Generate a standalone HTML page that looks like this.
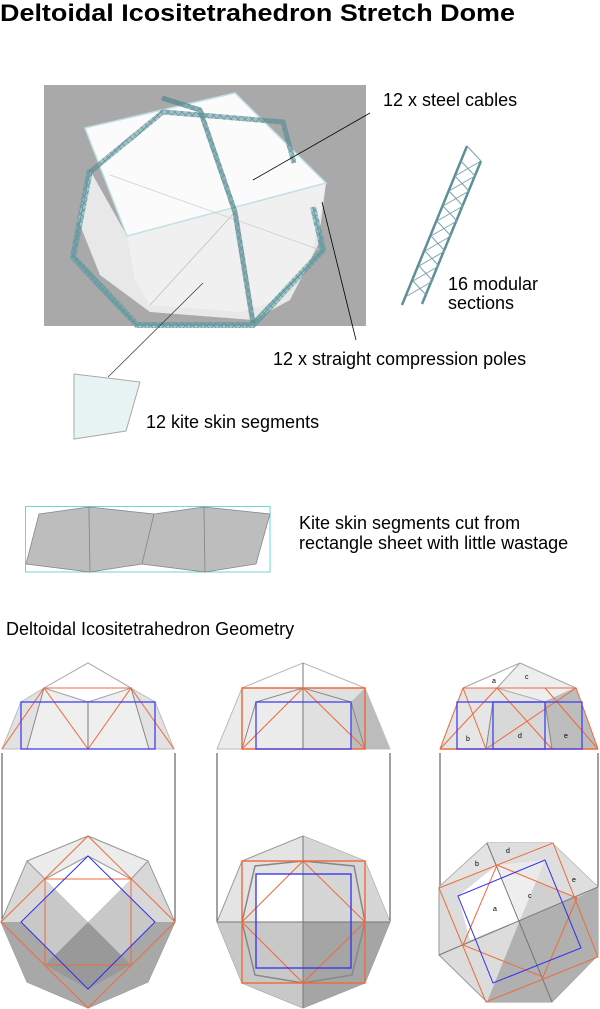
<!DOCTYPE html>
<html><head><meta charset="utf-8"><style>
html,body{margin:0;padding:0;background:#fff;}
svg{display:block}
text{font-family:"Liberation Sans",Arial,sans-serif;fill:#000}
</style></head><body>
<svg width="600" height="1009" viewBox="0 0 600 1009" xmlns="http://www.w3.org/2000/svg">
<defs>
<pattern id="tr" width="7" height="7" patternUnits="userSpaceOnUse">
<path d="M0 0L7 7M7 0L0 7" stroke="#5f9aa2" stroke-width="0.9"/>
</pattern>
</defs>
<text x="0" y="21" font-size="24" font-weight="bold" textLength="515" lengthAdjust="spacingAndGlyphs">Deltoidal Icositetrahedron Stretch Dome</text>

<!-- photo -->
<rect x="44" y="85" width="322" height="241" fill="#a9a9a9"/>
<polygon points="90,170 127,236 326,183 318,245 290,300 253,320 150,312 100,275 78,220" fill="#e8e8e8"/>
<polygon points="127,236 326,183 312,255 280,300 240,312 150,305 135,280" fill="#f0f0f0"/>
<polygon points="85,128 235,93 326,183 127,236" fill="#fbfbfb" stroke="#bfe0e4" stroke-width="1.5"/>
<line x1="235" y1="212" x2="150" y2="305" stroke="#bbb" stroke-width="0.7"/>
<line x1="110" y1="175" x2="320" y2="250" stroke="#ccc" stroke-width="0.7"/>
<!-- ring -->
<path d="M90,170 L73,257 L137,325 L253,325 L323,250 L313,207" fill="none" stroke="#5f9aa2" stroke-width="6" stroke-opacity="0.5"/>
<path d="M90,170 L73,257 L137,325 L253,325 L323,250 L313,207" fill="none" stroke="url(#tr)" stroke-width="6"/>
<path d="M90,170 L73,257 L137,325 L253,325 L323,250 L313,207" fill="none" stroke="#5f9aa2" stroke-width="1"/>
<!-- trusses -->
<path d="M90,172 L163,112 L283,122 L294,163" fill="none" stroke="#4f8188" stroke-width="5" stroke-opacity="0.5"/>
<path d="M90,172 L163,112 L283,122 L294,163" fill="none" stroke="url(#tr)" stroke-width="5"/>
<path d="M162,98 L200,110 L235,212 L253,323" fill="none" stroke="#4a7a80" stroke-width="5" stroke-opacity="0.6"/>
<path d="M162,98 L200,110 L235,212 L253,323" fill="none" stroke="url(#tr)" stroke-width="5"/>
<!-- leaders -->
<line x1="253" y1="180" x2="370" y2="113" stroke="#000" stroke-width="0.8"/>
<line x1="322" y1="202" x2="356" y2="340" stroke="#000" stroke-width="0.8"/>
<line x1="203" y1="283" x2="108" y2="377" stroke="#333" stroke-width="0.7"/>

<text x="383" y="106" font-size="18">12 x steel cables</text>
<!-- ladder -->
<line x1="467" y1="146" x2="402" y2="305" stroke="#5f8f96" stroke-width="2.5"/>
<line x1="481" y1="161" x2="422" y2="304" stroke="#5f8f96" stroke-width="2.5"/>
<path d="M467,146 L481,161 M461,161 L475,176 M455,176 L469,191 M449,191 L463,206 M443,206 L457,221 M437,221 L451,236 M431,236 L445,251 M425,251 L439,266 M419,266 L433,281 M413,281 L427,296 M481,161 L455,176 M475,176 L449,191 M469,191 L443,206 M463,206 L437,221 M457,221 L431,236 M451,236 L425,251 M445,251 L419,266 M439,266 L413,281 M433,281 L407,296" stroke="#7aa5ab" stroke-width="1"/>
<text x="448" y="290" font-size="18">16 modular</text>
<text x="448" y="309" font-size="18">sections</text>
<text x="273" y="365" font-size="18">12 x straight compression poles</text>

<polygon points="74,374 140,382 126,431 74,439" fill="#e8f3f3" stroke="#aaa" stroke-width="1"/>
<text x="146" y="428" font-size="18">12 kite skin segments</text>

<!-- rectangle sheet -->
<rect x="25.5" y="506.5" width="244.5" height="65.5" fill="none" stroke="#6ad8d4" stroke-width="1"/>
<g fill="#bdbdbd" stroke="#888" stroke-width="0.8">
<polygon points="39,514 89,507 90,572 26,564"/>
<polygon points="89,507 154,514 142,564 90,572"/>
<polygon points="154,514 204,507 205,572 142,564"/>
<polygon points="204,507 270,514 256,564 205,572"/>
</g>
<text x="299" y="529" font-size="18">Kite skin segments cut from</text>
<text x="299" y="549" font-size="18">rectangle sheet with little wastage</text>
<text x="6" y="635" font-size="18">Deltoidal Icositetrahedron Geometry</text>

<!-- connector verticals -->
<g stroke="#444" stroke-width="1">
<line x1="2" y1="753" x2="2" y2="922"/><line x1="175" y1="753" x2="175" y2="922"/>
<line x1="217" y1="753" x2="217" y2="922"/><line x1="390" y1="753" x2="390" y2="922"/>
<line x1="440" y1="753" x2="440" y2="887"/><line x1="598" y1="753" x2="598" y2="887"/>
</g>

<!-- Panel 1 top -->
<polygon points="2,749 21,702 44,688 88,663 131,688 155,702 174,749" fill="#e2e2e2" stroke="#bbb"/>
<polygon points="27,749 44,688 88,702 131,688 149,749" fill="#efefef" stroke="#888"/>
<polygon points="44,688 88,663 131,688 88,702" fill="#fff" stroke="#aaa"/>
<line x1="88" y1="702" x2="88" y2="749" stroke="#777"/>
<g stroke="#f06a3a" fill="none" stroke-width="1">
<line x1="44" y1="688" x2="131" y2="688"/>
<polyline points="2,749 44,688 88,749 131,688 174,749"/>
</g>
<rect x="21" y="702" width="134" height="47" fill="none" stroke="#4040ee" stroke-width="1.3"/>

<!-- Panel 1 bottom -->
<polygon points="88,836 148,861 175,922 148,982 88,1008 27,982 1,922 27,861" fill="#d8d8d8" stroke="#999"/>
<polygon points="1,922 175,922 148,982 88,1008 27,982" fill="#a8a8a8"/>
<polygon points="21,922 88,989 155,922 88,856" fill="#c8c8c8"/>
<polygon points="45,879 88,856 131,879 88,922" fill="#fff"/>
<polygon points="88,922 131,965 88,989 45,965" fill="#999"/>
<polygon points="88,836 148,861 131,879 88,856 45,879 27,861" fill="#ececec" stroke="#999"/>
<g stroke="#f06a3a" fill="none" stroke-width="1">
<polygon points="88,836 175,922 88,1008 1,922"/>
<rect x="45" y="879" width="86" height="86"/>
</g>
<polygon points="88,856 155,922 88,989 21,922" fill="none" stroke="#3030ee" stroke-width="1"/>

<!-- Panel 2 top -->
<polygon points="217,749 242,688 303,663 365,688 390,749" fill="#ececec" stroke="#bbb"/>
<polygon points="303,663 365,688 390,749 303,749" fill="#e0e0e0"/>
<polygon points="365,688 390,749 351,749 351,702" fill="#bcbcbc"/>
<polygon points="242,688 303,663 365,688" fill="#fff" stroke="#bbb"/>
<line x1="303" y1="663" x2="303" y2="749" stroke="#777"/>
<polyline points="242,749 256,702 303,688 351,702 365,749" fill="none" stroke="#888"/>
<g stroke="#f06a3a" fill="none" stroke-width="1">
<rect x="242" y="688" width="123" height="61" stroke-width="1.5"/>
<polyline points="242,749 303,688 365,749"/>
</g>
<rect x="256" y="702" width="95" height="47" fill="none" stroke="#4040ee" stroke-width="1.3"/>

<!-- Panel 2 bottom -->
<polygon points="303,836 365,861 390,922 365,983 303,1008 242,983 217,922 242,861" fill="#e4e4e4" stroke="#999"/>
<polygon points="303,922 390,922 365,983 303,1008" fill="#a5a5a5"/>
<polygon points="217,922 303,922 303,1008 242,983" fill="#c8c8c8"/>
<polygon points="303,836 365,861 390,922 303,922" fill="#d6d6d6"/>
<polygon points="256,874 303,874 303,922 256,922" fill="#fff"/>
<line x1="303" y1="836" x2="303" y2="1008" stroke="#777"/>
<line x1="217" y1="922" x2="390" y2="922" stroke="#777"/>
<polygon points="303,861 354,866 365,922 352,975 303,983 255,975 242,922 255,866" fill="none" stroke="#888" stroke-width="1.5"/>
<g stroke="#f06a3a" fill="none" stroke-width="1">
<rect x="242" y="861" width="123" height="122" stroke-width="1.4"/>
<polygon points="303,861 365,922 303,983 242,922"/>
</g>
<rect x="256" y="874" width="95" height="94" fill="none" stroke="#3030ee" stroke-width="1.3"/>

<!-- Panel 3 top -->
<polygon points="440,749 463,688 520,663 576,688 598,749" fill="#e6e6e6" stroke="#bbb"/>
<polygon points="463,688 520,663 497,688" fill="#fff" stroke="#aaa"/>
<polygon points="497,688 520,663 576,688 545,702" fill="#eee" stroke="#aaa"/>
<polygon points="545,702 576,688 598,749 552,749" fill="#bdbdbd"/>
<polygon points="493,702 545,702 552,749 486,749" fill="#d8d8d8" stroke="#888"/>
<g stroke="#f06a3a" fill="none" stroke-width="1">
<line x1="463" y1="688" x2="576" y2="688"/>
<polyline points="440,749 497,688 552,749"/>
<line x1="440" y1="749" x2="598" y2="749" stroke-width="1.5"/>
<line x1="486" y1="749" x2="576" y2="688"/>
<line x1="463" y1="688" x2="486" y2="749"/>
<line x1="545" y1="688" x2="598" y2="749"/>
<line x1="576" y1="688" x2="598" y2="749"/>
<line x1="463" y1="688" x2="440" y2="749"/>
</g>
<rect x="457" y="702" width="125" height="47" fill="none" stroke="#4040ee" stroke-width="1.3"/>
<rect x="493" y="702" width="52" height="47" fill="none" stroke="#4040ee" stroke-width="1.3"/>
<g font-size="7" fill="#555"><text x="492" y="683">a</text><text x="525" y="679">c</text><text x="466" y="741">b</text><text x="518" y="738">d</text><text x="564" y="738">e</text></g>

<!-- Panel 3 bottom -->
<polygon points="487,843 552,843 598,887 598,955 552,1002 487,1002 439,955 439,887" fill="#dcdcdc" stroke="#999"/>
<polygon points="520,920 598,887 598,955 552,1002 487,1002" fill="#b0b0b0"/>
<polygon points="520,920 598,887 552,843 487,843" fill="#d0d0d0"/>
<polygon points="458,896 497,865 520,920 470,940" fill="#fff"/>
<polygon points="497,865 545,860 520,920" fill="#eee"/>
<polygon points="487,843 552,843 598,887 577,898 497,865 439,887" fill="#e8e8e8" opacity="0.6"/>
<line x1="487" y1="843" x2="552" y2="1002" stroke="#777"/>
<line x1="439" y1="955" x2="598" y2="887" stroke="#777"/>
<g stroke="#f06a3a" fill="none" stroke-width="1">
<polygon points="439,888 553,843 598,957 486,1002"/>
<polygon points="497,865 577,898 543,977 463,945"/>
</g>
<polygon points="458,896 545,860 581,948 493,983" fill="none" stroke="#3030ee" stroke-width="1"/>
<g font-size="7" fill="#555"><text x="493" y="911">a</text><text x="528" y="898">c</text><text x="475" y="866">b</text><text x="506" y="853">d</text><text x="572" y="882">e</text></g>
</svg>
</body></html>
